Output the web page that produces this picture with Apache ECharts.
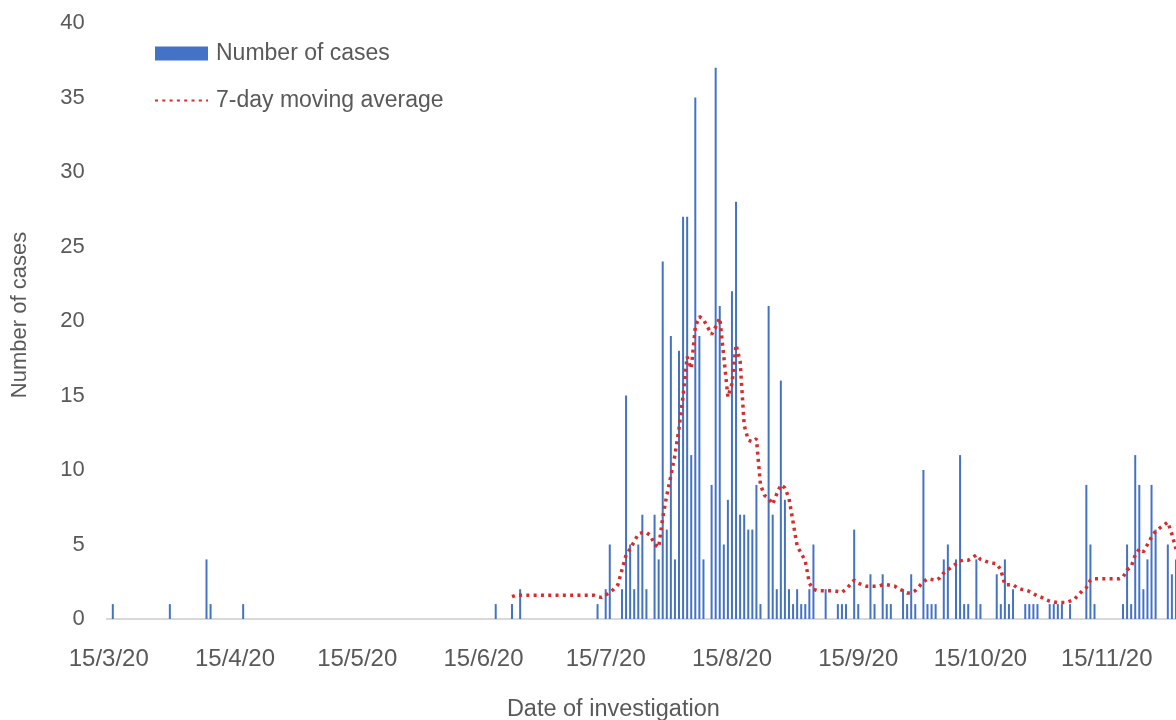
<!DOCTYPE html>
<html>
<head>
<meta charset="utf-8">
<script src="https://cdn.jsdelivr.net/npm/echarts@6/dist/echarts.min.js"></script>
<style>
  html, body { margin: 0; padding: 0; background: #fff; }
  #chart { width: 1176px; height: 720px; }
</style>
</head>
<body>
<div id="chart"></div>
<script>
// daily cases (only days with cases listed, every other day is 0)
const caseDates = [
  '16/3/20', '30/3/20', '8/4/20', '9/4/20', '17/4/20',
  '18/6/20', '22/6/20', '24/6/20',
  '13/7/20', '15/7/20', '16/7/20', '19/7/20', '20/7/20', '21/7/20', '22/7/20', '23/7/20',
  '24/7/20', '25/7/20', '27/7/20', '28/7/20', '29/7/20', '30/7/20', '31/7/20',
  '1/8/20', '2/8/20', '3/8/20', '4/8/20', '5/8/20', '6/8/20', '7/8/20', '8/8/20', '10/8/20',
  '11/8/20', '12/8/20', '13/8/20', '14/8/20', '15/8/20', '16/8/20', '17/8/20', '18/8/20',
  '19/8/20', '20/8/20', '21/8/20', '22/8/20', '24/8/20', '25/8/20', '26/8/20', '27/8/20',
  '28/8/20', '29/8/20', '30/8/20', '31/8/20',
  '1/9/20', '2/9/20', '3/9/20', '4/9/20', '7/9/20', '10/9/20', '11/9/20', '12/9/20',
  '14/9/20', '15/9/20', '18/9/20', '19/9/20', '21/9/20', '22/9/20', '23/9/20', '26/9/20',
  '27/9/20', '28/9/20', '29/9/20',
  '1/10/20', '2/10/20', '3/10/20', '4/10/20', '6/10/20', '7/10/20', '9/10/20', '10/10/20',
  '11/10/20', '12/10/20', '14/10/20', '15/10/20', '19/10/20', '20/10/20', '21/10/20',
  '22/10/20', '23/10/20', '26/10/20', '27/10/20', '28/10/20', '29/10/20',
  '1/11/20', '2/11/20', '3/11/20', '4/11/20', '6/11/20', '10/11/20', '11/11/20', '12/11/20',
  '19/11/20', '20/11/20', '21/11/20', '22/11/20', '23/11/20', '24/11/20', '25/11/20',
  '26/11/20', '27/11/20', '30/11/20', '1/12/20', '2/12/20'
]
const caseCounts = [
  1, 1, 4, 1, 1,
  1, 1, 2,
  1, 2, 5, 2, 15, 5, 2, 5,
  7, 2, 7, 4, 24, 6, 19,
  4, 18, 27, 27, 11, 35, 19, 4, 9,
  37, 21, 5, 8, 22, 28, 7, 7,
  6, 6, 9, 1, 21, 7, 2, 16,
  8, 2, 1, 2,
  1, 1, 2, 5, 2, 1, 1, 1,
  6, 1, 3, 1, 3, 1, 1, 2,
  1, 3, 1,
  10, 1, 1, 1, 4, 5, 4, 11,
  1, 1, 4, 1, 3, 1, 4,
  1, 2, 1, 1, 1, 1,
  1, 1, 1, 1, 1, 9, 5, 1,
  1, 5, 1, 11, 9, 2, 4,
  9, 6, 5, 3, 4
]

// 7-day moving average, one value per day from maStart
const maStart = '22/6/20'
const maValues = [
  1.5, 1.6, 1.6, 1.6, 1.6, 1.6, 1.6, 1.6, 1.6, 1.6, 1.6,
  1.6, 1.6, 1.6, 1.6, 1.6, 1.6, 1.6, 1.6, 1.6, 1.6,
  1.5, 1.45, 1.6, 1.8, 2.0, 2.3, 3.3, 4.3, 4.7, 5.2, 5.7, 5.8, 5.8, 5.6, 5.0, 4.8,
  6.8, 8.3, 9.6, 11.0, 12.8, 15.0, 17.6, 16.8, 19.6, 20.3, 20.1, 19.6, 19.1, 19.6,
  20.2, 17.6, 14.9, 15.8, 18.4, 17.3, 13.0, 12.0, 11.9, 12.1, 9.0, 8.3, 8.1, 7.7,
  8.4, 9.0, 8.8, 8.1, 6.5, 4.9, 4.4, 3.9, 2.4, 2.0, 1.9, 1.9, 1.9, 1.9, 1.9, 1.85,
  1.8, 2.0, 2.3, 2.6, 2.4, 2.3, 2.2, 2.2, 2.2, 2.2, 2.3, 2.3, 2.25, 2.2, 2.0, 1.9,
  1.75, 1.75, 1.9, 2.2, 2.5, 2.7, 2.65, 2.6, 2.75, 3.1, 3.3, 3.5, 3.7, 3.9, 3.95,
  3.95, 4.1, 4.3, 4.0, 3.9, 3.8, 3.75, 3.7, 3.3, 2.3, 2.3, 2.3, 2.1, 2.0, 1.95,
  1.85, 1.7, 1.55, 1.45, 1.3, 1.2, 1.15, 1.1, 1.1, 1.1, 1.2, 1.3, 1.6, 1.9, 2.1,
  2.6, 2.7, 2.7, 2.7, 2.7, 2.7, 2.7, 2.7, 2.8, 3.3, 3.5, 4.3, 4.7, 4.5, 5.0, 5.5,
  5.9, 6.1, 6.3, 6.5, 5.7, 4.7
]

const yTicks = [0, 5, 10, 15, 20, 25, 30, 35, 40]

// one category per day, 15/3/20 .. 2/12/20 (the picture is cut at 2/12)
const days = []
for (let t = new Date(2020, 2, 15); t <= new Date(2020, 11, 2); t.setDate(t.getDate() + 1)) {
  days.push(t.getDate() + '/' + (t.getMonth() + 1) + '/20')
}

const barData = days.map(() => 0)
caseDates.forEach((d, i) => { barData[days.indexOf(d)] = caseCounts[i] })

const maData = days.map(() => null)
const s0 = days.indexOf(maStart)
maValues.forEach((v, i) => { if (s0 + i < days.length) maData[s0 + i] = v })

const isMid = (idx, val) => val.startsWith('15/')
const grey = '#595959'
const red = '#d92b2b'
const font = 'Liberation Sans, Arial, sans-serif'

const chart = echarts.init(document.getElementById('chart'))
chart.setOption({
  animation: false,
  grid: { left: 106.7, top: 23, right: -2, bottom: 101, containLabel: false, outerBoundsMode: 'none' },
  legend: {
    orient: 'vertical',
    left: 149,
    top: 37,
    itemWidth: 53,
    itemHeight: 14,
    itemGap: 24,
    textStyle: { color: grey, fontSize: 23, fontFamily: font, padding: [0, 0, 0, 3] },
    data: [
      { name: 'Number of cases', icon: 'rect' },
      { name: '7-day moving average' }
    ]
  },
  xAxis: {
    type: 'category',
    data: days,
    name: 'Date of investigation',
    nameLocation: 'middle',
    nameGap: 79,
    nameTextStyle: { color: grey, fontSize: 23.5, fontFamily: font, padding: [0, 58, 0, 0] },
    axisLine: { lineStyle: { color: '#d9d9d9', width: 2 } },
    axisTick: { interval: isMid, length: 8, lineStyle: { color: '#d9d9d9', width: 2 } },
    axisLabel: { interval: isMid, color: grey, fontSize: 24, fontFamily: font, margin: 28 }
  },
  yAxis: {
    type: 'value',
    min: yTicks[0],
    max: yTicks[yTicks.length - 1],
    interval: 5,
    name: 'Number of cases',
    nameLocation: 'middle',
    nameRotate: 90,
    nameGap: 76,
    nameTextStyle: { color: grey, fontSize: 22, fontFamily: font, padding: [0, 0, 0, 12] },
    axisLine: { show: false },
    axisTick: { show: false },
    splitLine: { show: false },
    axisLabel: { color: grey, fontSize: 22, fontFamily: font, margin: 22 }
  },
  series: [
    {
      name: 'Number of cases',
      type: 'bar',
      data: barData,
      barWidth: 2,
      itemStyle: { color: '#4472c4' }
    },
    {
      name: '7-day moving average',
      type: 'line',
      data: maData,
      symbol: 'none',
      connectNulls: false,
      lineStyle: { color: red, width: 3.5, type: [3, 4.3] },
      // keeps the legend to the dotted line only
      itemStyle: { color: 'rgba(0,0,0,0)' }
    }
  ]
})
</script>
</body>
</html>
